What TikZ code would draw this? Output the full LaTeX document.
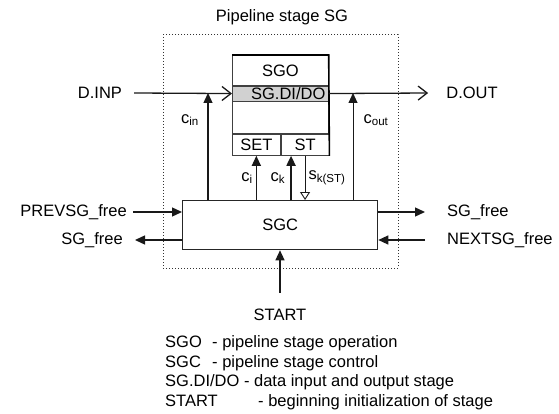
\documentclass[tikz,border=0pt]{standalone}
\usepackage{fontspec}
\setmainfont{Liberation Sans}
\usetikzlibrary{arrows.meta,positioning}
\tikzset{
  cell/.style={draw=black!75, line width=0.7pt, inner sep=0pt, anchor=north west},
  lbl/.style={inner sep=0pt},
  dat/.style={-{Straight Barb[length=9pt,width=14pt]}, line width=1.3pt, black!90},
  ctl/.style={-{Triangle[length=10pt,width=9pt]}, line width=1.3pt, black!90},
  flag/.style={-{Triangle[open,length=8pt,width=10pt]}, line width=0.9pt, black!90},
}
\begin{document}
\begin{tikzpicture}[x=1pt,y=-1pt,font=\fontsize{16.5}{19}\selectfont]
\useasboundingbox (0,0) rectangle (559,414);
\node[lbl] (title) at (282,17) {Pipeline stage SG};
\node[draw=black!80, dotted, line width=1pt, minimum width=235pt, minimum height=233pt] (stage) at (280.5,151.5) {};
% operation block
\node[cell, minimum width=96pt, minimum height=30pt] (sgo) at (232,55) {SGO};
\node[cell, fill=black!18, minimum width=96pt, minimum height=15pt, text width=90pt, align=right] (dido) at (sgo.south west) {SG.DI/DO};
\node[cell, minimum width=96pt, minimum height=32pt] (sgomid) at (dido.south west) {};
\node[cell, minimum width=48pt, minimum height=21pt] (set) at (sgomid.south west) {SET};
\node[cell, minimum width=48pt, minimum height=21pt] (st) at (set.north east) {ST};
\draw[line width=1.6pt] (sgo.north west) -- (sgo.north east) -- (st.south east);
% control block
\node[cell, draw=black!85, line width=1.3pt, minimum width=195pt, minimum height=49pt] (sgc) at (182,200) {SGC};
% data path
\node[lbl] (dinp) at (100,93) {D.INP};
\node[lbl] (dout) at (472,93) {D.OUT};
\draw[dat] ([xshift=12pt]dinp.east) -- (dido.west);
\draw[dat] (dido.east) -- ([xshift=-18pt]dout.west);
% control signals
\coordinate (cinT) at (208,93);
\coordinate (coutT) at (353,93);
\coordinate (ckT) at ([xshift=-14pt]st.south);
\draw[ctl] (sgc.north -| cinT) -- (cinT);
\draw[ctl, line width=0.9pt] (sgc.north -| coutT) -- (coutT);
\draw[ctl] (sgc.north -| set.south) -- (set.south);
\draw[ctl, line width=2pt] (sgc.north -| ckT) -- (ckT);
\draw[flag] (st.south) -- (sgc.north -| st.south);
\node[lbl] (cin) at (190,120) {c\textsubscript{in}};
\node[lbl] (cout) at (376,120) {c\textsubscript{out}};
\node[lbl] (ci) at (247,178) {c\textsubscript{i}};
\node[lbl] (ck) at (278,178) {c\textsubscript{k}};
\node[lbl] (sk) at (327,178) {s\textsubscript{k(ST)}};
% neighbour stages
\node[lbl, anchor=east] (prev) at (127,212) {PREVSG\_free};
\node[lbl, anchor=east] (sgfL) at (123,240) {SG\_free};
\node[lbl, anchor=west] (sgfR) at (447,212) {SG\_free};
\node[lbl, anchor=west] (nextf) at (447,240) {NEXTSG\_free};
\draw[ctl] ([xshift=6pt]prev.east) -- (sgc.west |- prev);
\draw[ctl] (sgc.west |- sgfL) -- ([xshift=12pt]sgfL.east);
\draw[ctl] (sgc.east |- sgfR) -- ([xshift=-22pt]sgfR.west);
\draw[ctl] ([xshift=-22pt]nextf.west) -- (sgc.east |- nextf);
\node[lbl] (start) at (280,315) {START};
\draw[ctl] ([yshift=16pt]start.north) -- (sgc.south -| start);
% legend
\node[lbl, anchor=west] (leg1) at (165,343) {\makebox[47pt][l]{SGO}- pipeline stage operation};
\node[lbl, anchor=west] (leg2) at (165,363) {\makebox[47pt][l]{SGC}- pipeline stage control};
\node[lbl, anchor=west] (leg3) at (165,382) {SG.DI/DO - data input and output stage};
\node[lbl, anchor=west] (leg4) at (165,402) {\makebox[93pt][l]{START}- beginning initialization of stage};
\end{tikzpicture}
\end{document}
